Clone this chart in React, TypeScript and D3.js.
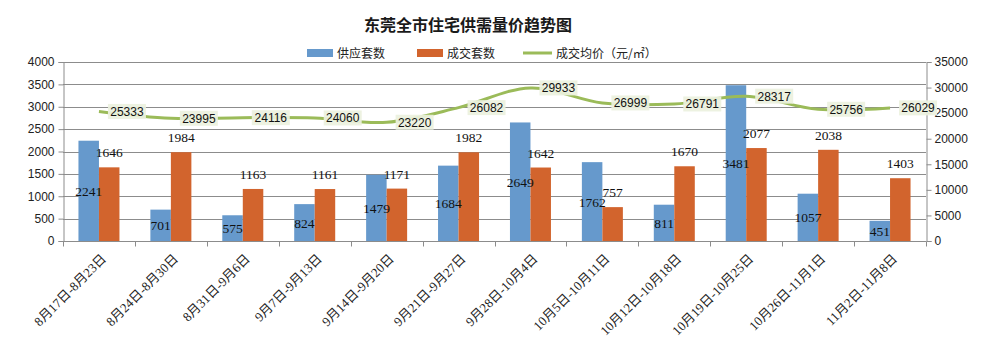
import { useEffect, useRef } from 'react';
import * as d3 from 'd3';

const categories = [
  '8月17日-8月23日', '8月24日-8月30日', '8月31日-9月6日', '9月7日-9月13日',
  '9月14日-9月20日', '9月21日-9月27日', '9月28日-10月4日', '10月5日-10月11日',
  '10月12日-10月18日', '10月19日-10月25日', '10月26日-11月1日', '11月2日-11月8日',
];
const supply = [2241, 701, 575, 824, 1479, 1684, 2649, 1762, 811, 3481, 1057, 451];
const deals = [1646, 1984, 1163, 1161, 1171, 1982, 1642, 757, 1670, 2077, 2038, 1403];
const price = [25333, 23995, 24116, 24060, 23220, 26082, 29933, 26999, 26791, 28317, 25756, 26029];
const leftTicks = [0, 500, 1000, 1500, 2000, 2500, 3000, 3500, 4000];
const rightTicks = [0, 5000, 10000, 15000, 20000, 25000, 30000, 35000];

const W = 999;
const H = 353;
const BLUE = '#6699cc';
const ORANGE = '#d2642d';
const GREEN = '#9bbb59';
const SANS = '"Liberation Sans", "Noto Sans CJK SC", sans-serif';
const SERIF = '"Liberation Serif", "Noto Sans CJK SC", serif';
const CJK = '"Noto Sans CJK SC", sans-serif';

export default function App() {
  const svgRef = useRef<SVGSVGElement>(null);

  useEffect(() => {
    if (!svgRef.current) return;
    const svg = d3.select(svgRef.current);
    svg.selectAll('*').remove();

    const left = 63, right = 926, top = 62, bottom = 241;

    const x = d3.scaleBand<string>().domain(categories).range([left, right]);
    const yL = d3.scaleLinear().domain([0, 4000]).range([bottom, top]);
    const yR = d3.scaleLinear().domain([0, 35000]).range([bottom, top]);
    const barW = 20.5;

    svg.append('rect')
      .attr('x', 0.5).attr('y', 0.5)
      .attr('width', W - 1).attr('height', H - 1)
      .attr('fill', '#fff').attr('stroke', '#8c8c8c');

    // title
    svg.append('text')
      .attr('x', 468).attr('y', 31)
      .attr('text-anchor', 'middle')
      .attr('font-family', CJK).attr('font-weight', 'bold')
      .attr('font-size', 16).attr('fill', '#1a1a1a')
      .text('东莞全市住宅供需量价趋势图');

    // legend
    const lg = svg.append('g').attr('font-family', CJK).attr('font-size', 12).attr('fill', '#222');
    lg.append('rect').attr('x', 307).attr('y', 49).attr('width', 26).attr('height', 8).attr('fill', BLUE);
    lg.append('text').attr('x', 337).attr('y', 57.5).text('供应套数');
    lg.append('rect').attr('x', 417).attr('y', 49).attr('width', 26).attr('height', 8).attr('fill', ORANGE);
    lg.append('text').attr('x', 447).attr('y', 57.5).text('成交套数');
    lg.append('line').attr('x1', 523).attr('x2', 552).attr('y1', 53).attr('y2', 53)
      .attr('stroke', GREEN).attr('stroke-width', 3);
    lg.append('text').attr('x', 556).attr('y', 57.5).text('成交均价（元/㎡）');

    // gridlines
    svg.append('g').selectAll('line').data(leftTicks.slice(1)).join('line')
      .attr('x1', left).attr('x2', right)
      .attr('y1', d => Math.round(yL(d)) + 0.5).attr('y2', d => Math.round(yL(d)) + 0.5)
      .attr('stroke', '#8c8c8c');

    // left axis
    const la = svg.append('g')
      .attr('transform', `translate(${left + 0.5},0)`)
      .call(d3.axisLeft(yL).tickValues(leftTicks).tickSize(5).tickPadding(4).tickFormat(d3.format('d')));
    la.select('.domain').attr('stroke', '#8c8c8c');
    la.selectAll('.tick line').attr('stroke', '#8c8c8c');
    la.selectAll('text').attr('font-family', SANS).attr('font-size', 12).attr('fill', '#222');

    // right axis
    const ra = svg.append('g')
      .attr('transform', `translate(${right + 0.5},0)`)
      .call(d3.axisRight(yR).tickValues(rightTicks).tickSize(5).tickPadding(3).tickFormat(d3.format('d')));
    ra.select('.domain').attr('stroke', '#8c8c8c');
    ra.selectAll('.tick line').attr('stroke', '#8c8c8c');
    ra.selectAll('text').attr('font-family', SANS).attr('font-size', 12).attr('fill', '#222');

    // x axis
    const xa = svg.append('g').attr('transform', `translate(0,${bottom + 0.5})`);
    xa.append('line').attr('x1', left).attr('x2', right).attr('stroke', '#8c8c8c');
    xa.selectAll('line.t').data(d3.range(categories.length + 1)).join('line')
      .attr('class', 't')
      .attr('x1', i => Math.round(left + x.step() * i) + 0.5)
      .attr('x2', i => Math.round(left + x.step() * i) + 0.5)
      .attr('y1', 0).attr('y2', 5).attr('stroke', '#8c8c8c');
    xa.selectAll('text').data(categories).join('text')
      .attr('transform', d => `translate(${x(d)! + x.bandwidth() / 2 + 8},${18}) rotate(-45)`)
      .attr('text-anchor', 'end')
      .attr('font-family', SERIF).attr('font-size', 13).attr('fill', '#222')
      .text(d => d);

    // bars
    const bars = svg.append('g');
    bars.selectAll('rect.s').data(supply).join('rect')
      .attr('class', 's')
      .attr('x', (_, i) => x(categories[i])! + x.bandwidth() / 2 - barW)
      .attr('y', d => yL(d)).attr('width', barW).attr('height', d => bottom - yL(d))
      .attr('fill', BLUE);
    bars.selectAll('rect.d').data(deals).join('rect')
      .attr('class', 'd')
      .attr('x', (_, i) => x(categories[i])! + x.bandwidth() / 2)
      .attr('y', d => yL(d)).attr('width', barW).attr('height', d => bottom - yL(d))
      .attr('fill', ORANGE);

    // bar labels
    const bl = svg.append('g').attr('font-family', SERIF).attr('font-size', 13.5)
      .attr('fill', '#111').attr('text-anchor', 'middle');
    bl.selectAll('text.s').data(supply).join('text')
      .attr('class', 's')
      .attr('x', (_, i) => x(categories[i])! + x.bandwidth() / 2 - barW / 2)
      .attr('y', d => (yL(d) + bottom) / 2 + 5)
      .text(d => d);
    bl.selectAll('text.d').data(deals).join('text')
      .attr('class', 'd')
      .attr('x', (_, i) => x(categories[i])! + x.bandwidth() / 2 + barW / 2)
      .attr('y', d => yL(d) - 10)
      .text(d => d);

    // price line
    const line = d3.line<number>()
      .x((_, i) => x(categories[i])! + x.bandwidth() / 2)
      .y(d => yR(d))
      .curve(d3.curveCatmullRom.alpha(0.5));
    svg.append('path').datum(price)
      .attr('d', line)
      .attr('fill', 'none').attr('stroke', GREEN).attr('stroke-width', 3);

    // price labels
    const pl = svg.append('g').selectAll('g').data(price).join('g')
      .attr('transform', (d, i) => `translate(${x(categories[i])! + x.bandwidth() / 2 + 9},${yR(d)})`);
    pl.append('rect')
      .attr('x', 0).attr('y', -7.5).attr('width', 38).attr('height', 15)
      .attr('fill', '#ebf1de').attr('fill-opacity', 0.92);
    pl.append('text')
      .attr('x', 19).attr('y', 4.5)
      .attr('text-anchor', 'middle')
      .attr('font-family', SANS).attr('font-size', 12).attr('fill', '#111')
      .text(d => d);
  }, []);

  return (
    <div style={{ margin: -8, width: W, height: H }}>
      <svg ref={svgRef} width={W} height={H} style={{ display: 'block' }} />
    </div>
  );
}
